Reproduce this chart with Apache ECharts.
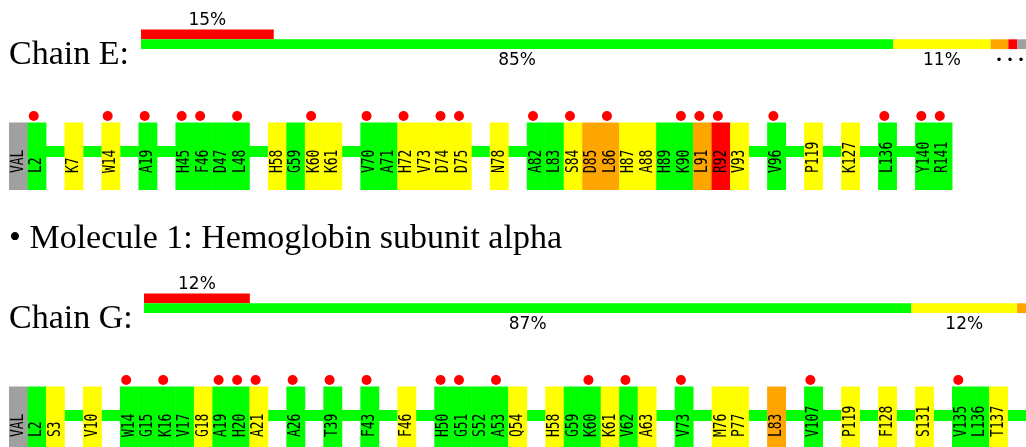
<!DOCTYPE html>
<html><head><meta charset="utf-8">
<script src="https://cdn.jsdelivr.net/npm/echarts@6/dist/echarts.min.js"></script>
<style>html,body{margin:0;padding:0;background:#fff}#c{width:1026px;height:447px}</style>
</head><body><div id="c"></div>
<script>
// ---------- data ----------
const moleculeTitle = '• Molecule 1: Hemoglobin subunit alpha';
const chainNames = ['Chain E:', 'Chain G:'];

const chainE_residues = ['VAL','L2','K7','W14','A19','H45','F46','D47','L48','H58','G59','K60','K61','V70','A71','H72','V73','D74','D75','N78','A82','L83','S84','D85','L86','H87','A88','H89','K90','L91','R92','V93','V96','P119','K127','L136','Y140','R141'];
const chainE_quality  = ['N','G','Y','Y','G','G','G','G','G','Y','G','Y','Y','G','G','Y','Y','Y','Y','Y','G','G','Y','O','O','Y','Y','G','G','O','R','Y','G','Y','Y','G','G','G'];
const chainE_flagged  = ['L2','W14','A19','H45','F46','L48','K60','V70','H72','D74','D75','A82','S84','L86','K90','L91','R92','V96','L136','Y140','R141'];
const chainE_worse = 15;                 // % (top red bar)
const chainE_split = [85, 11, 2, 1, 1];  // green, yellow, orange, red, grey

const chainG_residues = ['VAL','L2','S3','V10','W14','G15','K16','V17','G18','A19','H20','A21','A26','T39','F43','F46','H50','G51','S52','A53','Q54','H58','G59','K60','K61','V62','A63','V73','M76','P77','L83','V107','P119','F128','S131','V135','L136','T137'];
const chainG_quality  = ['N','G','Y','Y','G','G','G','G','Y','G','G','Y','G','G','G','Y','G','G','G','G','Y','Y','G','G','Y','G','Y','G','Y','Y','O','G','Y','Y','Y','G','G','Y'];
const chainG_flagged  = ['W14','K16','A19','H20','A21','A26','T39','F43','H50','G51','A53','K60','V62','V73','V107','V135'];
const chainG_worse = 12;
const chainG_split = [87, 12, 1, 0, 0];
const chainG_continues = true;

// ---------- styles ----------
const COL = {G:'#00ff00', Y:'#ffff00', O:'#ffa500', R:'#ff0000', N:'#a0a0a0'};
const splitColors = [COL.G, COL.Y, COL.O, COL.R, COL.N];

function resNum(name){ return name === 'VAL' ? 1 : parseInt(name.slice(1), 10); }
function buildItems(res, qual, flagged){
  let slot = 0;
  return res.map((r, i) => {
    if (i > 0) { slot += 1; if (resNum(r) - resNum(res[i-1]) > 1) slot += 1; }
    return {value:[slot], name:r, q:qual[i], flag:flagged.indexOf(r) >= 0};
  });
}
const itemsE = buildItems(chainE_residues, chainE_quality, chainE_flagged);
const itemsG = buildItems(chainG_residues, chainG_quality, chainG_flagged);

function residueSeries(items, idx, continues){
  const last = items[items.length-1].value[0] + 1;
  const lineEnd = continues ? last + 3 : last;
  return [
    { type:'custom', xAxisIndex:idx, yAxisIndex:idx, z:1, silent:true,
      data:[{value:[1, lineEnd]}],
      renderItem(params, api){
        const a = api.coord([api.value(0), 0]);
        const b = api.coord([api.value(1), 0]);
        const top = params.coordSys.y;
        return {type:'rect', shape:{x:a[0], y:top+46, width:b[0]-a[0], height:11}, style:{fill:COL.G}};
      }
    },
    { type:'custom', xAxisIndex:idx, yAxisIndex:idx, z:2, silent:true,
      data: items.map(d => ({value:d.value})),
      renderItem(params, api){
        const d = items[params.dataIndex];
        const p = api.coord([api.value(0), 0]);
        const w = api.size([1, 0])[0];
        const top = params.coordSys.y;
        const children = [
          {type:'rect', shape:{x:p[0], y:top+22.5, width:w+0.4, height:67.5}, style:{fill:COL[d.q]}},
          {type:'text', x:p[0]+w/2, y:top+73, rotation:Math.PI/2, scaleX:0.72,
            style:{text:d.name, fontFamily:'DejaVu Sans Mono', fontSize:18, fill:'#000', align:'left', verticalAlign:'middle'}}
        ];
        if (d.flag) children.push({type:'circle', shape:{cx:p[0]+w/2-3, cy:top+16, r:5}, style:{fill:'#ff0000'}});
        return {type:'group', children};
      }
    }
  ];
}

function barSeries(idx, worse, split){
  const lbl = {fontFamily:'DejaVu Sans', fontSize:17, color:'#000'};
  const s = [{
    type:'bar', stack:'q'+idx, xAxisIndex:idx, yAxisIndex:idx, barCategoryGap:0,
    data:['-', worse], itemStyle:{color:COL.R},
    label:Object.assign({show:true, position:'top', distance:0, formatter:'{c}%'}, lbl)
  }];
  split.forEach((v, k) => {
    const ser = {type:'bar', stack:'q'+idx, xAxisIndex:idx, yAxisIndex:idx, barCategoryGap:0,
      data:[v, '-'], itemStyle:{color:splitColors[k]}};
    if (k < 2) ser.label = Object.assign({show:true, position:'bottom', distance:3, formatter:'{c}%'}, lbl);
    else if (k === 2 && split[3] > 0) ser.label = Object.assign({show:true, position:[5, 16], formatter:'• • •'}, lbl, {fontSize:12});
    s.push(ser);
  });
  return s;
}

const hiddenVal = (min, max) => ({type:'value', min, max, show:false});
const option = {
  animation:false,
  grid:[
    {left:141, top:29.5, width:889, height:19.6},
    {left:144, top:293.5, width:887, height:19.6},
    {left:9, top:100, width:1023, height:100},
    {left:9, top:364, width:1023, height:100}
  ],
  xAxis:[
    Object.assign(hiddenVal(0,100), {gridIndex:0}),
    Object.assign(hiddenVal(0,100), {gridIndex:1}),
    Object.assign(hiddenVal(0,55), {gridIndex:2}),
    Object.assign(hiddenVal(0,55), {gridIndex:3})
  ],
  yAxis:[
    {type:'category', gridIndex:0, data:['lower','upper'], show:false},
    {type:'category', gridIndex:1, data:['lower','upper'], show:false},
    Object.assign(hiddenVal(0,1), {gridIndex:2}),
    Object.assign(hiddenVal(0,1), {gridIndex:3})
  ],
  graphic:[
    {type:'text', x:9, y:55, style:{text:chainNames[0], fontFamily:'Liberation Serif', fontSize:34, fill:'#000', verticalAlign:'middle'}},
    {type:'text', x:9, y:239, style:{text:moleculeTitle, fontFamily:'Liberation Serif', fontSize:34, fill:'#000', verticalAlign:'middle'}},
    {type:'text', x:9, y:319, style:{text:chainNames[1], fontFamily:'Liberation Serif', fontSize:34, fill:'#000', verticalAlign:'middle'}}
  ],
  series:[].concat(
    barSeries(0, chainE_worse, chainE_split),
    barSeries(1, chainG_worse, chainG_split),
    residueSeries(itemsE, 2, false),
    residueSeries(itemsG, 3, chainG_continues)
  )
};
echarts.init(document.getElementById('c'), null, {renderer:'canvas'}).setOption(option);
</script></body></html>
